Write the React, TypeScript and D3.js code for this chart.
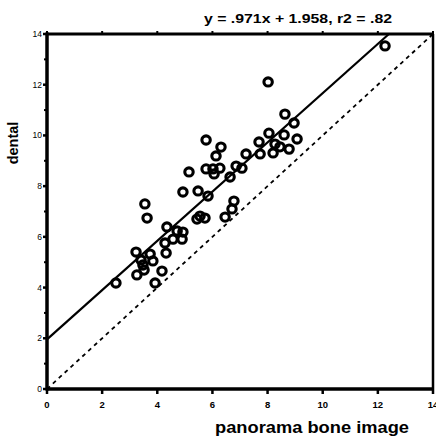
import React from "react";
import * as d3 from "d3";

const xValues = [12.26, 8.02, 8.63, 8.96, 8.05, 8.6, 9.07, 7.69, 8.27, 8.45, 8.78, 8.2, 7.73, 7.22, 6.86, 7.07, 6.64, 6.31, 6.13, 5.77, 5.15, 5.77, 6.02, 6.27, 6.06, 4.93, 5.48, 5.84, 3.55, 3.63, 5.44, 5.55, 5.73, 6.46, 6.71, 6.78, 4.35, 4.72, 4.93, 4.9, 4.57, 4.28, 4.32, 3.23, 3.74, 3.41, 3.84, 3.48, 3.26, 3.52, 4.17, 3.92, 2.5];
const yValues = [13.53, 12.11, 10.84, 10.49, 10.09, 10.02, 9.86, 9.74, 9.66, 9.55, 9.46, 9.31, 9.27, 9.27, 8.79, 8.71, 8.36, 9.54, 9.19, 9.82, 8.56, 8.68, 8.68, 8.71, 8.48, 7.77, 7.81, 7.61, 7.3, 6.74, 6.7, 6.82, 6.74, 6.78, 7.1, 7.41, 6.39, 6.23, 6.19, 5.91, 5.91, 5.76, 5.36, 5.4, 5.32, 5.09, 5.05, 4.89, 4.5, 4.69, 4.65, 4.18, 4.18];
const xTicks = [0, 2, 4, 6, 8, 10, 12, 14];
const yTicks = [0, 2, 4, 6, 8, 10, 12, 14];
const yMinorTicks = [1, 3, 5, 7, 9, 11, 13];
const slope = 0.971;
const intercept = 1.958;
const title = "y = .971x + 1.958, r2 = .82";
const xLabel = "panorama bone image";
const yLabel = "dental";

export default function App() {
  const W = 436, H = 439;
  const x = d3.scaleLinear().domain([0, 14]).range([47, 433]);
  const y = d3.scaleLinear().domain([0, 14]).range([389, 34]);
  const xEnd = (14 - intercept) / slope;
  const line = d3.line<[number, number]>().x(d => x(d[0])).y(d => y(d[1]));
  const font = "Arial, 'Liberation Sans', Helvetica, sans-serif";
  return (
    <svg width={W} height={H} style={{ position: "absolute", left: 0, top: 0, background: "#fff" }} fontFamily={font}>
      <rect x={0} y={0} width={W} height={H} fill="#fff" />
      {/* identity line */}
      <path d={line([[0, 0], [14, 14]]) || ""} stroke="#000" strokeWidth={1.8} strokeDasharray="4,4" fill="none" />
      {/* regression line */}
      <path d={line([[0, intercept], [xEnd, 14]]) || ""} stroke="#000" strokeWidth={2.2} fill="none" />
      {/* points */}
      {xValues.map((v, i) => (
        <ellipse key={i} cx={x(v)} cy={y(yValues[i])} rx={4.2} ry={4.1} fill="none" stroke="#000" strokeWidth={3.1} />
      ))}
      {/* frame */}
      <line x1={x(0)} x2={x(14)} y1={y(14)} y2={y(14)} stroke="#000" strokeWidth={3} />
      <line x1={x(14)} x2={x(14)} y1={y(14)} y2={y(0)} stroke="#000" strokeWidth={2.5} />
      <line x1={x(0)} x2={x(14)} y1={y(0)} y2={y(0)} stroke="#000" strokeWidth={3.5} />
      <line x1={x(0)} x2={x(0)} y1={y(14) - 1.5} y2={y(0) + 1.5} stroke="#000" strokeWidth={3.5} />
      {/* x ticks */}
      {xTicks.map(t => (
        <g key={"xt" + t}>
          <line x1={x(t)} x2={x(t)} y1={y(0)} y2={y(0) + 5} stroke="#000" strokeWidth={2.5} />
          <line x1={x(t)} x2={x(t)} y1={y(14)} y2={y(14) - 3} stroke="#000" strokeWidth={2} />
          <text x={x(t)} y={408} textAnchor="middle" fontSize={9.5} fontWeight="bold">{t}</text>
        </g>
      ))}
      {/* y ticks */}
      {yTicks.map(t => (
        <g key={"yt" + t}>
          <line x1={x(0)} x2={x(0) - 4} y1={y(t)} y2={y(t)} stroke="#000" strokeWidth={2.5} />
          <text x={42} y={y(t) + 3} textAnchor="end" fontSize={8.5}>{t}</text>
        </g>
      ))}
      {yMinorTicks.map(t => (
        <line key={"ym" + t} x1={x(0)} x2={x(0) - 3} y1={y(t)} y2={y(t)} stroke="#000" strokeWidth={2} />
      ))}
      {/* labels */}
      <text x={298} y={23} textAnchor="middle" fontSize={13.5} fontWeight="bold" textLength={188} lengthAdjust="spacingAndGlyphs">{title}</text>
      <text x={312} y={433} textAnchor="middle" fontSize={16.5} fontWeight="bold" textLength={194} lengthAdjust="spacingAndGlyphs">{xLabel}</text>
      <text transform={`translate(18,143) rotate(-90)`} textAnchor="middle" fontSize={14.5} fontWeight="bold">{yLabel}</text>
    </svg>
  );
}
